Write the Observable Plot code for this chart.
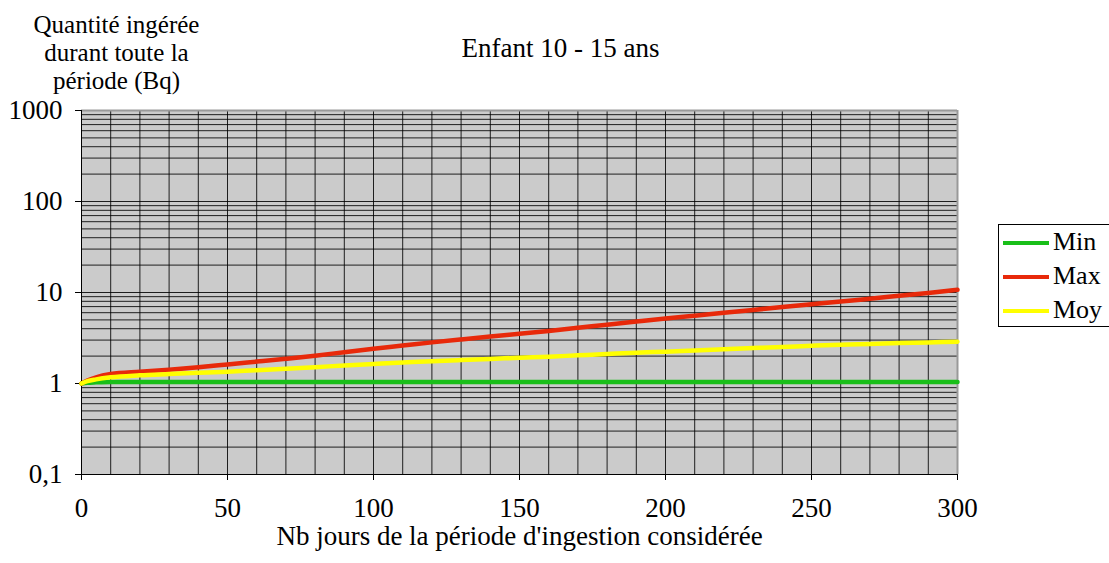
<!DOCTYPE html>
<html>
<head>
<meta charset="utf-8">
<script src="https://cdn.jsdelivr.net/npm/d3@7"></script>
<script src="https://cdn.jsdelivr.net/npm/@observablehq/plot@0.6"></script>
<style>
  html, body { margin: 0; padding: 0; background: #fff; overflow: hidden; }
  #wrap { position: relative; width: 1109px; height: 563px; font-family: "Liberation Serif", "DejaVu Serif", "Times New Roman", serif; }
  #wrap svg text { font-family: "Liberation Serif", "DejaVu Serif", "Times New Roman", serif; }
  #legend {
    position: absolute; left: 998px; top: 224px; width: 111px; height: 101px;
    border: 1px solid #000; border-right: none; background: #fff;
    font-family: "Liberation Serif", "DejaVu Serif", "Times New Roman", serif; font-size: 26px; color: #000;
  }
  .item { position: absolute; left: 0; height: 30px; }
  .item .sw { position: absolute; left: 4px; width: 46px; height: 4px; top: 14px; }
  .item .lb { position: absolute; left: 54px; top: 0; line-height: 30px; }
</style>
</head>
<body>
<div id="wrap"></div>
<script>
const title = "Enfant 10 - 15 ans";
const yLabel = "Quantité ingérée\ndurant toute la\npériode (Bq)";
const xLabel = "Nb jours de la période d'ingestion considérée";

const series = ["Min", "Max", "Moy"];
const colors = ["#19bf19", "#e8290a", "#ffff00"];

const days    = [0, 2, 5, 10, 20, 30, 40, 50, 60, 70, 80, 90, 100, 110, 120, 130, 140, 150, 160, 170, 180, 190, 200, 210, 220, 230, 240, 250, 260, 270, 280, 290, 300];
const minVals = [1.0, 1.02, 1.03, 1.04, 1.04, 1.04, 1.04, 1.04, 1.04, 1.04, 1.04, 1.04, 1.04, 1.04, 1.04, 1.04, 1.04, 1.04, 1.04, 1.04, 1.04, 1.04, 1.04, 1.04, 1.04, 1.04, 1.04, 1.04, 1.04, 1.04, 1.04, 1.04, 1.04];
const maxVals = [1.0, 1.08, 1.17, 1.27, 1.35, 1.42, 1.51, 1.62, 1.74, 1.87, 2.02, 2.21, 2.41, 2.61, 2.83, 3.05, 3.28, 3.52, 3.78, 4.09, 4.43, 4.79, 5.17, 5.56, 5.98, 6.43, 6.92, 7.42, 7.95, 8.55, 9.2, 9.9, 10.7];
const moyVals = [1.0, 1.06, 1.11, 1.17, 1.23, 1.27, 1.31, 1.35, 1.40, 1.45, 1.51, 1.58, 1.64, 1.70, 1.76, 1.81, 1.86, 1.92, 1.97, 2.04, 2.11, 2.18, 2.24, 2.31, 2.38, 2.45, 2.52, 2.60, 2.67, 2.72, 2.78, 2.83, 2.88];

const xTicks = [0, 50, 100, 150, 200, 250, 300];
const xGrid = [0, 10, 20, 30, 40, 50, 60, 70, 80, 90, 100, 110, 120, 130, 140, 150, 160, 170, 180, 190, 200, 210, 220, 230, 240, 250, 260, 270, 280, 290, 300];
const yTicks = [0.1, 1, 10, 100, 1000];
const yTickLabels = ["0,1", "1", "10", "100", "1000"];
const yGrid = [0.1, 0.2, 0.3, 0.4, 0.5, 0.6, 0.7, 0.8, 0.9,
               1, 2, 3, 4, 5, 6, 7, 8, 9,
               10, 20, 30, 40, 50, 60, 70, 80, 90,
               100, 200, 300, 400, 500, 600, 700, 800, 900, 1000];

const valueSets = [minVals, maxVals, moyVals];
const data = series.flatMap((s, i) => days.map((d, j) => ({day: d, value: valueSets[i][j], series: s})));

const serif = "Liberation Serif, DejaVu Serif, Times New Roman, serif";

const chart = Plot.plot({
  width: 1109,
  height: 563,
  marginLeft: 81,
  marginRight: 152,
  marginTop: 110,
  marginBottom: 89,
  style: {fontFamily: serif, fontSize: "27px", background: "#fff", color: "#000"},
  x: {domain: [0, 300]},
  y: {type: "log", domain: [0.1, 1000]},
  color: {domain: series, range: colors},
  marks: [
    Plot.frame({fill: "#cbcbcb", stroke: null}),
    Plot.gridX(xGrid, {stroke: "#000", strokeOpacity: 0.85, strokeWidth: 1}),
    Plot.gridY(yGrid, {stroke: "#000", strokeOpacity: 0.85, strokeWidth: 1}),
    Plot.ruleY([1000], {stroke: "#999", strokeWidth: 2}),
    Plot.ruleX([300], {stroke: "#999", strokeWidth: 2}),
    Plot.ruleX([0], {stroke: "#000", strokeWidth: 1}),
    Plot.ruleY([0.1], {stroke: "#000", strokeWidth: 1}),
    Plot.axisX({ticks: xTicks, tickSize: 6, tickPadding: 17, label: null, fontSize: 27}),
    Plot.axisY({ticks: yTicks, tickFormat: d => yTickLabels[yTicks.indexOf(d)], tickSize: 6, tickPadding: 13, label: null, fontSize: 27}),
    Plot.line(data, {x: "day", y: "value", stroke: "series", strokeWidth: 4.5, curve: "monotone-x"}),
    Plot.text([title], {text: d => d, frameAnchor: "top", dx: 41, dy: -73, fontSize: 27}),
    Plot.text([yLabel], {text: d => d, frameAnchor: "top-left", dx: 35, dy: -58, textAnchor: "middle", lineAnchor: "middle", lineHeight: 1.12, fontSize: 25}),
    Plot.text([xLabel], {text: d => d, frameAnchor: "bottom", dy: 70, fontSize: 27})
  ]
});

const wrap = document.getElementById("wrap");
wrap.appendChild(chart);

const legend = document.createElement("div");
legend.id = "legend";
series.forEach((s, i) => {
  const item = document.createElement("div");
  item.className = "item";
  item.style.top = (2 + i * 34) + "px";
  const sw = document.createElement("div");
  sw.className = "sw";
  sw.style.background = colors[i];
  const lb = document.createElement("div");
  lb.className = "lb";
  lb.textContent = s;
  item.appendChild(sw);
  item.appendChild(lb);
  legend.appendChild(item);
});
wrap.appendChild(legend);
</script>
</body>
</html>
